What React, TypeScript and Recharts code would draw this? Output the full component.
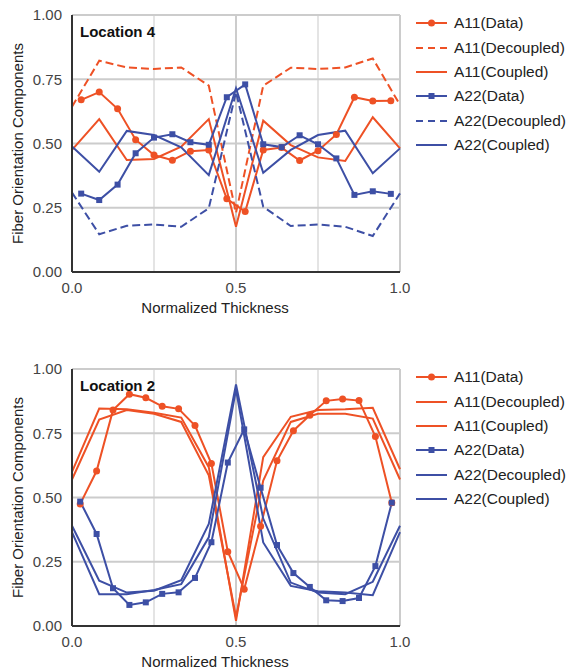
import { LineChart, Line, XAxis, YAxis, ReferenceLine, Label } from 'recharts';

const ORANGE = '#ee5125';
const BLUE = '#3d4fa5';
const FONT = "'Liberation Sans', Arial, sans-serif";

// model nodes through the thickness
const modelX = [0, 0.083, 0.167, 0.25, 0.333, 0.417, 0.5, 0.583, 0.667, 0.75, 0.833, 0.917, 1];

// Location 4 (18 measured layers)
const layersLoc4 = [0.028, 0.083, 0.139, 0.194, 0.25, 0.306, 0.361, 0.417, 0.472, 0.528, 0.583, 0.639, 0.694, 0.75, 0.806, 0.861, 0.917, 0.972];
const a11DataLoc4 = [0.67, 0.7, 0.635, 0.515, 0.455, 0.435, 0.47, 0.475, 0.285, 0.235, 0.475, 0.484, 0.434, 0.472, 0.535, 0.68, 0.665, 0.666];
const a22DataLoc4 = [0.305, 0.28, 0.34, 0.462, 0.523, 0.536, 0.505, 0.495, 0.68, 0.73, 0.497, 0.486, 0.532, 0.497, 0.442, 0.3, 0.314, 0.304];
const a11DecLoc4 = [0.643, 0.822, 0.796, 0.79, 0.796, 0.725, 0.23, 0.725, 0.795, 0.79, 0.796, 0.831, 0.65];
const a11CouLoc4 = [0.475, 0.595, 0.436, 0.44, 0.488, 0.595, 0.176, 0.589, 0.494, 0.446, 0.432, 0.602, 0.481];
const a22DecLoc4 = [0.309, 0.147, 0.18, 0.185, 0.176, 0.248, 0.7, 0.254, 0.179, 0.185, 0.176, 0.14, 0.306];
const a22CouLoc4 = [0.488, 0.39, 0.549, 0.533, 0.485, 0.377, 0.715, 0.386, 0.475, 0.533, 0.55, 0.384, 0.481];

// Location 2 (20 measured layers)
const layersLoc2 = [0.025, 0.075, 0.125, 0.175, 0.225, 0.275, 0.325, 0.375, 0.425, 0.475, 0.525, 0.575, 0.625, 0.675, 0.725, 0.775, 0.825, 0.875, 0.925, 0.975];
const a11DataLoc2 = [0.475, 0.603, 0.84, 0.902, 0.888, 0.855, 0.845, 0.78, 0.632, 0.289, 0.143, 0.388, 0.643, 0.76, 0.82, 0.876, 0.883, 0.877, 0.737, 0.48];
const a22DataLoc2 = [0.484, 0.358, 0.147, 0.082, 0.092, 0.125, 0.131, 0.187, 0.326, 0.636, 0.765, 0.538, 0.315, 0.206, 0.152, 0.1, 0.097, 0.109, 0.233, 0.48];
const a11DecLoc2 = [0.6, 0.846, 0.843, 0.83, 0.811, 0.618, 0.02, 0.657, 0.814, 0.84, 0.843, 0.849, 0.61];
const a11CouLoc2 = [0.57, 0.803, 0.84, 0.826, 0.794, 0.586, 0.035, 0.566, 0.794, 0.826, 0.826, 0.807, 0.57];
const a22DecLoc2 = [0.39, 0.176, 0.13, 0.137, 0.178, 0.397, 0.94, 0.418, 0.169, 0.13, 0.124, 0.172, 0.39];
const a22CouLoc2 = [0.365, 0.124, 0.124, 0.14, 0.163, 0.345, 0.92, 0.325, 0.156, 0.135, 0.13, 0.12, 0.365];

const yTicks = [0, 0.25, 0.5, 0.75, 1];
const xTicks = [0, 0.5, 1];

type Marker = 'circle' | 'square' | undefined;
type Series = { name: string; xs: number[]; ys: number[]; color: string; dashed?: boolean; marker?: Marker };

const toPoints = (xs: number[], ys: number[]) => xs.map((x, i) => ({ x, y: ys[i] }));

function squareDot(color: string) {
  return (props: any) => {
    const { cx, cy, index } = props;
    if (cx == null || cy == null) return <g key={`sq-${index}`} />;
    return <rect key={`sq-${index}`} x={cx - 3} y={cy - 3} width={6} height={6} fill={color} />;
  };
}

function LegendBox({ series }: { series: Series[] }) {
  return (
    <div style={{ position: 'absolute', left: 412, top: 11, width: 160 }}>
      {series.map((s) => (
        <div key={s.name} style={{ display: 'flex', alignItems: 'center', height: 24.4 }}>
          <svg width={38} height={12} style={{ flex: 'none' }}>
            <line x1={4} x2={35} y1={6} y2={6} stroke={s.color} strokeWidth={2} strokeDasharray={s.dashed ? '7 5' : undefined} />
            {s.marker === 'circle' && <circle cx={19.5} cy={6} r={3.5} fill={s.color} />}
            {s.marker === 'square' && <rect x={16.5} y={3} width={6} height={6} fill={s.color} />}
          </svg>
          <span style={{ fontFamily: FONT, fontSize: 15.5, color: '#222', marginLeft: 4, whiteSpace: 'nowrap' }}>{s.name}</span>
        </div>
      ))}
    </div>
  );
}

function Panel({ title, series, top }: { title: string; series: Series[]; top: number }) {
  return (
    <div style={{ position: 'absolute', left: 0, top, width: 570, height: 316 }}>
      <LineChart width={570} height={316} margin={{ top: 15, right: 170, bottom: 4, left: 12 }}>
        <ReferenceLine x={0.25} stroke="#e4e4e4" strokeWidth={2} />
        <ReferenceLine x={0.75} stroke="#e4e4e4" strokeWidth={2} />
        <ReferenceLine x={0.5} stroke="#cccccc" strokeWidth={2} />
        <ReferenceLine x={1} stroke="#cccccc" strokeWidth={2} />
        {[0.25, 0.5, 0.75, 1].map((v) => (
          <ReferenceLine key={v} y={v} stroke="#cccccc" strokeWidth={2} />
        ))}
        <XAxis
          type="number"
          dataKey="x"
          domain={[0, 1]}
          ticks={xTicks}
          tickFormatter={(v) => v.toFixed(1)}
          axisLine={{ stroke: '#333', strokeWidth: 2 }}
          tickLine={false}
          tickMargin={4}
          tick={{ fill: '#444', fontSize: 15, fontFamily: FONT }}
          height={40}
        >
          <Label value="Normalized Thickness" position="insideBottom" offset={-1} dx={-21} style={{ fill: '#222', fontSize: 15, fontFamily: FONT }} />
        </XAxis>
        <YAxis
          type="number"
          domain={[0, 1]}
          ticks={yTicks}
          tickFormatter={(v) => v.toFixed(2)}
          axisLine={{ stroke: '#333', strokeWidth: 2 }}
          tickLine={false}
          tickMargin={4}
          tick={{ fill: '#444', fontSize: 15, fontFamily: FONT }}
          width={60}
        >
          <Label value="Fiber Orientation Components" position="center" angle={-90} dx={-24} style={{ fill: '#222', fontSize: 15, fontFamily: FONT }} />
        </YAxis>
        {series.map((s) => (
          <Line
            key={s.name}
            data={toPoints(s.xs, s.ys)}
            dataKey="y"
            name={s.name}
            type="linear"
            stroke={s.color}
            strokeWidth={2}
            strokeDasharray={s.dashed ? '8 4' : undefined}
            dot={s.marker === 'circle' ? { r: 3.5, fill: s.color, stroke: s.color, strokeWidth: 0 } : s.marker === 'square' ? squareDot(s.color) : false}
            activeDot={false}
            isAnimationActive={false}
          />
        ))}
      </LineChart>
      <div style={{ position: 'absolute', left: 80, top: 23, fontFamily: FONT, fontWeight: 'bold', fontSize: 15, color: '#111' }}>
        {title}
      </div>
      <LegendBox series={series} />
    </div>
  );
}

const seriesLoc4: Series[] = [
  { name: 'A11(Data)', xs: layersLoc4, ys: a11DataLoc4, color: ORANGE, marker: 'circle' },
  { name: 'A11(Decoupled)', xs: modelX, ys: a11DecLoc4, color: ORANGE, dashed: true },
  { name: 'A11(Coupled)', xs: modelX, ys: a11CouLoc4, color: ORANGE },
  { name: 'A22(Data)', xs: layersLoc4, ys: a22DataLoc4, color: BLUE, marker: 'square' },
  { name: 'A22(Decoupled)', xs: modelX, ys: a22DecLoc4, color: BLUE, dashed: true },
  { name: 'A22(Coupled)', xs: modelX, ys: a22CouLoc4, color: BLUE },
];

const seriesLoc2: Series[] = [
  { name: 'A11(Data)', xs: layersLoc2, ys: a11DataLoc2, color: ORANGE, marker: 'circle' },
  { name: 'A11(Decoupled)', xs: modelX, ys: a11DecLoc2, color: ORANGE },
  { name: 'A11(Coupled)', xs: modelX, ys: a11CouLoc2, color: ORANGE },
  { name: 'A22(Data)', xs: layersLoc2, ys: a22DataLoc2, color: BLUE, marker: 'square' },
  { name: 'A22(Decoupled)', xs: modelX, ys: a22DecLoc2, color: BLUE },
  { name: 'A22(Coupled)', xs: modelX, ys: a22CouLoc2, color: BLUE },
];

export default function App() {
  return (
    <div style={{ position: 'absolute', left: 0, top: 0, width: 570, height: 670, background: '#fff', overflow: 'hidden' }}>
      <Panel title="Location 4" series={seriesLoc4} top={0} />
      <Panel title="Location 2" series={seriesLoc2} top={354} />
    </div>
  );
}
